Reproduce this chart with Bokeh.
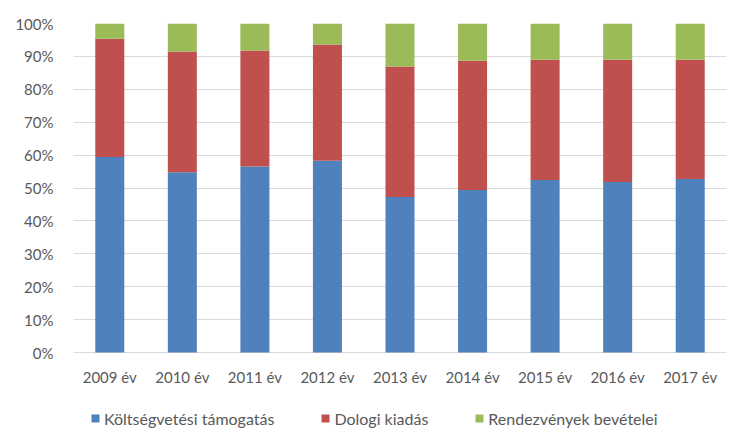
from bokeh.plotting import figure
from bokeh.models import ColumnDataSource, Legend, LegendItem, NumeralTickFormatter, FixedTicker
from bokeh.core.properties import value
from bokeh.embed import file_html
from bokeh.resources import INLINE

years = ["2009 év", "2010 év", "2011 év", "2012 év", "2013 év", "2014 év", "2015 év", "2016 év", "2017 év"]
koltsegvetesi = [59.4, 54.8, 56.5, 58.3, 47.3, 49.4, 52.4, 51.8, 52.7]
dologi = [36.0, 36.7, 35.3, 35.3, 39.6, 39.3, 36.6, 37.2, 36.3]
rendezvenyek = [4.6, 8.5, 8.2, 6.4, 13.1, 11.3, 11.0, 11.0, 11.0]
series_names = ["Költségvetési támogatás", "Dologi kiadás", "Rendezvények bevételei"]
colors = ["#4f81bd", "#c0504d", "#9bbb59"]
y_ticks = [i / 10 for i in range(11)]

src = ColumnDataSource(dict(x=years,
                            a=[v / 100 for v in koltsegvetesi],
                            b=[v / 100 for v in dologi],
                            c=[v / 100 for v in rendezvenyek],
                            ly=[-0.073] * len(years)))

FONT = "Lato"
# frame spans 23..440 px; value 0 sits at 352 px, leaving room below for labels and legend
p = figure(x_range=years, y_range=(-88 / 329, 1), width=752, height=448,
           output_backend="svg", toolbar_location=None,
           min_border_left=73, min_border_right=26, min_border_top=23, min_border_bottom=8)

rs = p.vbar_stack(["a", "b", "c"], x="x", width=0.4, color=colors, source=src, line_width=0)

# category labels under the bars
p.text(x="x", y="ly", text="x", source=src, text_align="center", text_baseline="middle",
       text_font=value(FONT), text_font_size="15px", text_color="#595959")

p.xaxis.visible = False
p.yaxis.ticker = FixedTicker(ticks=y_ticks)
p.yaxis.formatter = NumeralTickFormatter(format="0%")
p.ygrid.ticker = FixedTicker(ticks=y_ticks)
p.ygrid.grid_line_color = "#d9d9d9"
p.ygrid.grid_line_width = 1
p.xgrid.grid_line_color = None
p.yaxis.axis_line_color = None
p.yaxis.major_tick_line_color = None
p.yaxis.minor_tick_line_color = None
p.yaxis.major_label_text_font = FONT
p.yaxis.major_label_text_font_size = "15px"
p.yaxis.major_label_text_color = "#595959"
p.yaxis.major_label_standoff = 14
p.outline_line_color = None
p.x_range.range_padding = 0.0

legend = Legend(items=[LegendItem(label=n, renderers=[r]) for n, r in zip(series_names, rs)],
                orientation="horizontal", location=(17, 12))
legend.label_text_font = FONT
legend.label_text_font_size = "16px"
legend.label_text_color = "#595959"
legend.glyph_width = 10
legend.glyph_height = 10
legend.label_height = 20
legend.spacing = 46
legend.label_standoff = 4
legend.border_line_color = None
legend.background_fill_alpha = 0
legend.padding = 0
legend.margin = 0
p.add_layout(legend, "center")

open("out.html", "w").write(file_html(p, INLINE))
